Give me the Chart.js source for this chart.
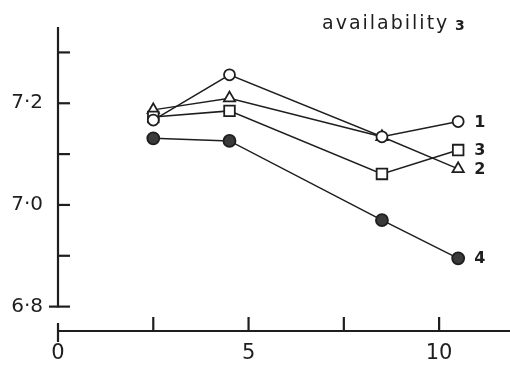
<!DOCTYPE html>
<html>
<head>
<meta charset="utf-8">
<script src="https://cdn.jsdelivr.net/npm/chart.js@4/dist/chart.umd.min.js"></script>
<style>
  html, body { margin: 0; padding: 0; background: #fff; }
  #wrap { width: 510px; height: 366px; position: relative; }
</style>
</head>
<body>
<div id="wrap"><canvas id="chart"></canvas></div>
<script>
// values
const xValues = [2.5, 4.5, 8.5, 10.5];
const series1 = [7.167, 7.256, 7.134, 7.164];
const series2 = [7.187, 7.210, 7.134, 7.071];
const series3 = [7.173, 7.185, 7.061, 7.108];
const series4 = [7.131, 7.126, 6.970, 6.895];
const seriesNames = ['1', '2', '3', '4'];

const xTicks = [0, 2.5, 5, 7.5, 10];
const xTickLabels = ['0', '', '5', '', '10'];
const yTicks = [6.8, 6.9, 7.0, 7.1, 7.2, 7.3];
const yTickLabels = ['6·8', '', '7·0', '', '7·2', ''];

const ink = '#1e1e1e';
const font = 'DejaVu Sans';

function pts(ys) {
  return xValues.map((x, i) => ({ x: x, y: ys[i] }));
}

function line(ctx, x1, y1, x2, y2) {
  ctx.beginPath();
  ctx.moveTo(x1, y1);
  ctx.lineTo(x2, y2);
  ctx.stroke();
}

// axes are drawn by hand: inward ticks, and the two axes do not meet
const axesPlugin = {
  id: 'handAxes',
  beforeDatasetsDraw(chart) {
    const { ctx, scales: { x, y } } = chart;
    const x0 = x.getPixelForValue(0);
    const yTop = y.top;
    const yBot = y.getPixelForValue(yTicks[0]);
    const xLine = chart.chartArea.bottom + 1;
    ctx.save();
    ctx.strokeStyle = ink;
    ctx.lineWidth = 2.2;
    line(ctx, x0, yTop, x0, yBot + 1);
    yTicks.forEach((v, i) => {
      const p = y.getPixelForValue(v);
      line(ctx, i === 0 ? x0 - 9 : x0, p, x0 + 12, p);
    });
    line(ctx, x0, xLine, x.right, xLine);
    xTicks.forEach((v, i) => {
      const p = x.getPixelForValue(v);
      line(ctx, p, xLine - (i === 0 ? 8 : 14), p, xLine + (i === 0 ? 11 : 0));
    });
    ctx.restore();
  },
  afterDatasetsDraw(chart) {
    const { ctx } = chart;
    ctx.save();
    // series labels beside the last point
    ctx.fillStyle = ink;
    ctx.font = 'bold 16px "' + font + '"';
    ctx.textBaseline = 'middle';
    ctx.textAlign = 'left';
    chart.data.datasets.forEach((ds, i) => {
      const el = chart.getDatasetMeta(i).data[ds.data.length - 1];
      ctx.fillText(ds.label, el.x + 16, el.y + 1);
    });
    // title
    ctx.font = '19px "' + font + '"';
    ctx.textBaseline = 'alphabetic';
    ctx.letterSpacing = '2px';
    ctx.fillText('availability', 322, 29);
    ctx.letterSpacing = '0px';
    ctx.font = 'bold 14px "' + font + '"';
    ctx.fillText('3', 455, 30);
    ctx.restore();
  }
};

const common = {
  showLine: true,
  borderColor: ink,
  borderWidth: 1.5,
  pointBorderColor: ink,
  pointBorderWidth: 1.8,
  pointBackgroundColor: '#fff',
  clip: false
};

new Chart(document.getElementById('chart'), {
  type: 'scatter',
  data: {
    datasets: [
      { ...common, label: seriesNames[0], data: pts(series1), pointStyle: 'circle', pointRadius: 5.5 },
      { ...common, label: seriesNames[2], data: pts(series3), pointStyle: 'rect', pointRadius: 7.5 },
      { ...common, label: seriesNames[1], data: pts(series2), pointStyle: 'triangle', pointRadius: 6.5 },
      { ...common, label: seriesNames[3], data: pts(series4), pointStyle: 'circle', pointRadius: 6, pointBackgroundColor: '#3a3a3a' }
    ]
  },
  options: {
    responsive: true,
    maintainAspectRatio: false,
    animation: false,
    layout: { autoPadding: false, padding: { top: 27, right: 0, left: 0, bottom: 0 } },
    plugins: {
      legend: { display: false },
      tooltip: { enabled: false }
    },
    scales: {
      x: {
        type: 'linear',
        min: 0,
        max: 11.86,
        grid: { display: false, drawTicks: false },
        border: { display: false },
        afterBuildTicks: (s) => { s.ticks = xTicks.map(v => ({ value: v })); },
        afterFit: (s) => { s.height = 36; s.paddingLeft = 0; s.paddingRight = 0; },
        ticks: {
          padding: 11,
          autoSkip: false,
          maxRotation: 0,
          color: ink,
          font: { family: font, size: 21 },
          callback: (v, i) => xTickLabels[i]
        }
      },
      y: {
        type: 'linear',
        min: 6.754,
        max: 7.35,
        grid: { display: false, drawTicks: false },
        border: { display: false },
        afterBuildTicks: (s) => { s.ticks = yTicks.map(v => ({ value: v })); },
        afterFit: (s) => { s.width = 58; s.paddingTop = 0; s.paddingBottom = 0; },
        ticks: {
          padding: 15,
          autoSkip: false,
          color: ink,
          font: { family: font, size: 20 },
          callback: (v, i) => yTickLabels[i]
        }
      }
    }
  },
  plugins: [axesPlugin]
});
</script>
</body>
</html>
